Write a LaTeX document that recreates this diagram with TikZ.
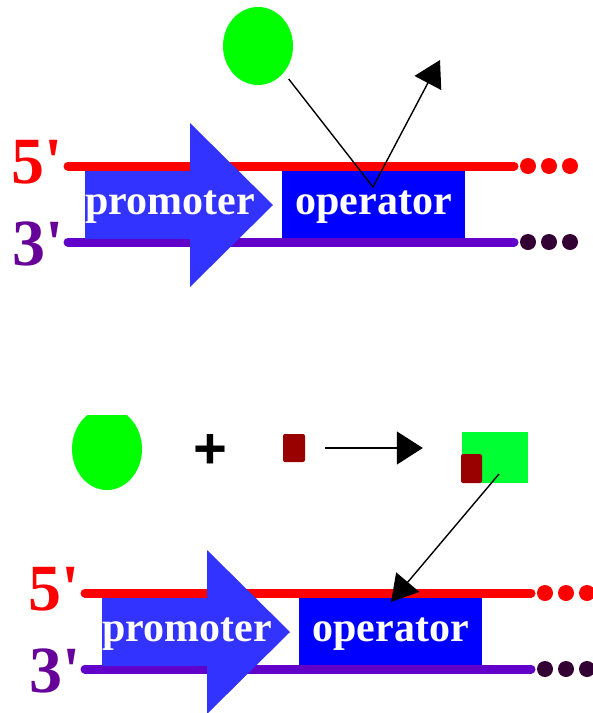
\documentclass[tikz,border=0pt]{standalone}
\usepackage{fontspec}
\setmainfont{Liberation Serif}
\newfontfamily\strandfont{Liberation Serif}[Ligatures=TeXOff]
\newfontfamily\plusfont{Liberation Sans}
\usetikzlibrary{shapes.geometric,arrows.meta}

\definecolor{fivecol}{HTML}{FF0000}
\definecolor{threecol}{HTML}{6000C8}
\definecolor{labpurple}{HTML}{660099}
\definecolor{promcol}{HTML}{3333FF}
\definecolor{opcol}{HTML}{0000FF}
\definecolor{repgreen}{HTML}{00FF00}
\definecolor{cplxgreen}{HTML}{00FF33}
\definecolor{indred}{HTML}{990000}
\definecolor{darkdot}{HTML}{330033}

\tikzset{
  strand/.style={line width=9pt,line cap=round},
  boxtext/.style={text=white,font=\fontsize{42}{42}\selectfont\bfseries,inner sep=0pt,anchor=base},
  endlabel/.style={font=\strandfont\fontsize{66}{66}\selectfont\bfseries,inner sep=0pt,anchor=base west},
  thinarrow/.style={line width=1.4pt,-{Triangle[length=26pt,width=30pt]}},
  repressor/.style={ellipse,fill=repgreen,inner sep=0pt,minimum width=70pt},
  inducer/.style={fill=indred,rounded corners=2pt,inner sep=0pt,minimum width=22pt,minimum height=28pt},
  endot/.style={circle,inner sep=0pt,minimum size=16pt}
}

% one double strand with promoter arrow and operator box; #1 = name suffix
\newcommand\dnapair[3]{%
  \begin{scope}[shift={(#2,#3)}]
    \draw[strand,fivecol] (68,166) -- (514,166);
    \draw[strand,threecol] (68,242) -- (514,242);
    \fill[promcol] (85,171) -- (190,171) -- (190,123) -- (273,205)
      -- (190,287) -- (190,239) -- (85,239) -- cycle;
    \node[fill=opcol,inner sep=0pt,minimum width=183.5pt,minimum height=67pt]
      (operator#1) at (373.25,204.5) {};
    \node[boxtext] (promlabel#1) at (170,214) {promoter};
    \node[boxtext] (oplabel#1) at (373.5,214) {operator};
    \foreach \x/\n in {528/a,549/b,570/c}{
      \node[endot,fill=fivecol] (top\n#1) at (\x,166) {};
      \node[endot,fill=darkdot] (bot\n#1) at (\x,242) {};
    }
    \node[endlabel,text=fivecol] (five#1) at (11,183) {5'};
    \node[endlabel,text=labpurple] (three#1) at (12,265) {3'};
  \end{scope}}

\begin{document}
\begin{tikzpicture}[x=1pt,y=-1pt]
  \useasboundingbox (0,0) rectangle (593,713);
  \fill[white] (0,0) rectangle (593,713);

  % upper panel: repressor leaves the operator
  \dnapair{A}{0}{0}
  \node[repressor,minimum height=78pt] (rep) at (258,46) {};
  \coordinate (bind) at (373,187);
  \coordinate (away) at (440,60);
  \draw[thinarrow,shorten <=8pt] (rep.-46) -- (bind) -- (away);

  % lower panel: repressor plus inducer binds the operator
  \dnapair{B}{17}{427}
  \begin{scope}
    \clip (0,415) rectangle (200,500);
    \node[repressor,minimum height=82pt] (rep2) at (107,449) {};
  \end{scope}
  \node[font=\plusfont\bfseries\fontsize{58}{58}\selectfont,inner sep=0pt] (plus) at (210,451) {+};
  \node[inducer] (ind) at (294,448) {};
  \node[fill=cplxgreen,inner sep=0pt,minimum width=66pt,minimum height=51pt] (cplx) at (495,457.5) {};
  \node[inducer,minimum width=21pt,minimum height=29pt] (indb) at (471.5,468.5) {};
  \draw[thinarrow,-{Triangle[length=26pt,width=33pt]},shorten <=20pt,shorten >=39pt]
    (ind.east) -- (ind.east -| cplx.west);
  \coordinate (grab) at (499,474);
  \coordinate (site) at (391,602);
  \draw[thinarrow] (grab) -- (site);
\end{tikzpicture}
\end{document}
